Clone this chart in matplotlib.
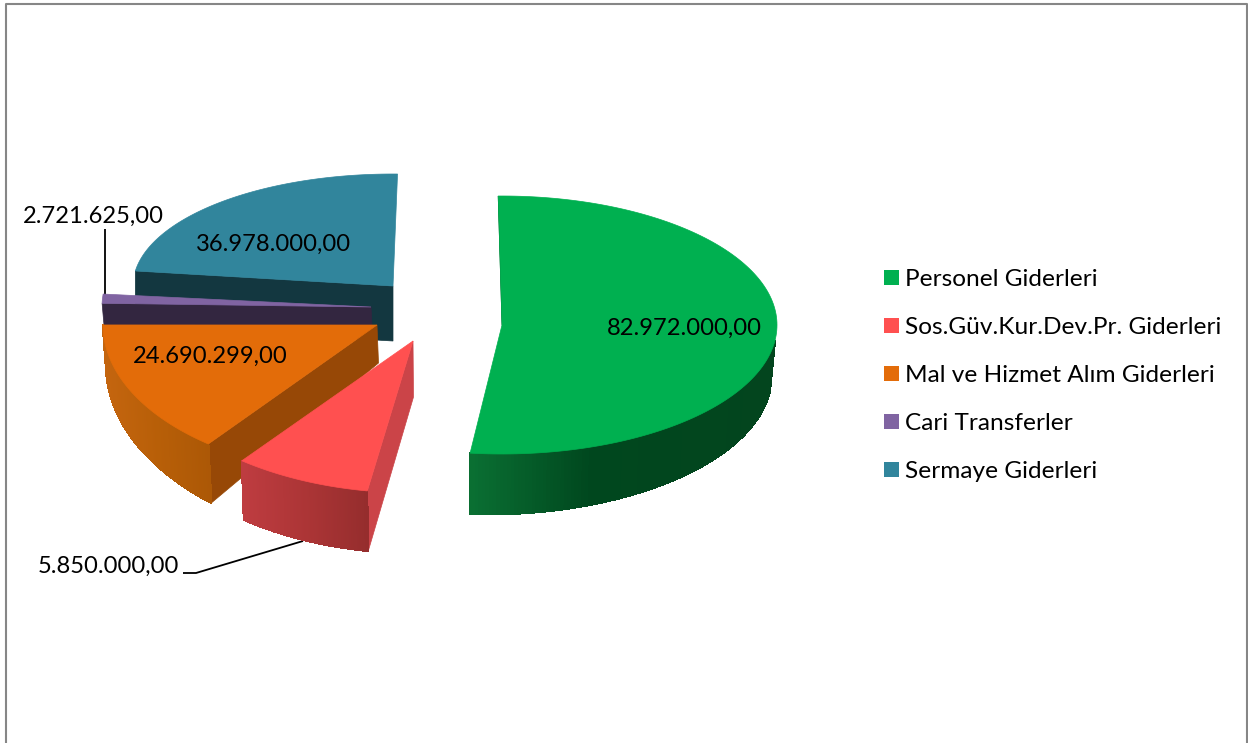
import numpy as np
import matplotlib
matplotlib.use("Agg")
import matplotlib.pyplot as plt
from matplotlib.collections import PolyCollection
from matplotlib.colors import LinearSegmentedColormap
from matplotlib.patches import Patch, Polygon

plt.rcParams['font.family'] = ['Lato', 'DejaVu Sans']

categories = ["Personel Giderleri", "Sos.Güv.Kur.Dev.Pr. Giderleri",
              "Mal ve Hizmet Alım Giderleri", "Cari Transferler", "Sermaye Giderleri"]
values = [82972000.00, 5850000.00, 24690299.00, 2721625.00, 36978000.00]
top_colors = ["#00B050", "#FF5050", "#E36C09", "#8064A2", "#31859C"]
side_colors = ["#004A20", "#CB4448", "#974806", "#332640", "#133740"]

# 3D view: perspective warp of the pie angle (true -> shown), degrees clockwise from 12 o'clock
warp_true = [0, 195, 208.7, 266.7, 273.1, 360]
warp_shown = [0, 188, 218, 270, 276.5, 361]
trim_start = [-0.8, 1.5, 0, 1.5, 1.2]
trim_end = [-1.3, 0, 0, -1.2, 0]
# exploded slice apexes and ellipse radii, pixels
apex_x = [502, 413, 377, 371, 393]
apex_y = [325, 341, 325, 307, 286]
rad_x = [275, 278, 274, 269, 260]
rad_y = [129, 152, 151, 140, 112]
# extrusion: outer drop at start/end of the visible wall, drop at apex, x drift
wall_from = [97, 189.5, 218, None, None]
wall_to = [186.7, 218, 270, None, None]
drop_wall_a = [50, 60, 59, 23, 55]
drop_wall_b = [61, 59, 40, 23, 55]
drift_a = [-5, 1, 3, 2, 0]
drift_b = [0, 2, 3, 2, 0]
drop_apex = [0, 56, 38, 18, 55]
wall_stops = [[(0, "#03451E"), (0.6, "#00471E"), (1, "#0A7033")],
              [(0, "#952D2D"), (0.5, "#AC3536"), (1, "#BE3C40")],
              [(0, "#AC5806"), (0.5, "#B85F08"), (1, "#C4650F")], None, None]

label_x = [684, None, 210, None, 274]
label_y = [328, None, 356, None, 244]
callout_text_x = [None, 179, None, 164, None]
callout_text_y = [None, 566, None, 216, None]
callout_line_x = [None, [183, 196, 303], None, [105, 105], None]
callout_line_y = [None, [573, 573, 541], None, [229, 302], None]

FONT = 17.15
LEGEND_FONT = 17.6

def tr(v):
    return f"{v:,.2f}".replace(",", "#").replace(".", ",").replace("#", ".")

def pt(i, deg):
    t = np.radians(deg)
    return apex_x[i] + rad_x[i] * np.sin(t), apex_y[i] - rad_y[i] * np.cos(t)

fig = plt.figure(figsize=(12.48, 7.43), dpi=100)
ax = fig.add_axes([0, 0, 1, 1])
ax.set_xlim(0, 1248)
ax.set_ylim(743, 0)
ax.axis("off")

ax.plot([6, 6, 1247, 1247], [743, 4, 4, 743], color="#868686", lw=1.5, zorder=1)

cum = np.concatenate([[0], np.cumsum(values)]) / np.sum(values) * 360
shown = np.interp(cum, warp_true, warp_shown)

for i in [4, 3, 2, 1, 0]:
    a0 = shown[i] + trim_start[i]
    a1 = shown[i + 1] + trim_end[i]
    z = 10 + (4 - i) * 3
    # cut face at the start edge (the end edge for the first slice, only a sliver shows)
    if i == 0:
        ox, oy = pt(i, a0)
        ax.add_patch(Polygon([(ox, oy), (apex_x[i] + 2, apex_y[i] - 20), (apex_x[i] + 2, apex_y[i]),
                              (apex_x[i], apex_y[i])], closed=True, fc=side_colors[i], ec=side_colors[i],
                             lw=0.5, zorder=z))
    else:
        ox, oy = pt(i, a0)
        d0 = drop_wall_a[i]
        ax.add_patch(Polygon([(ox, oy), (apex_x[i], apex_y[i]),
                              (apex_x[i] + drift_a[i] * 0.5, apex_y[i] + drop_apex[i]),
                              (ox + drift_a[i], oy + d0)], closed=True,
                             fc=side_colors[i], ec=side_colors[i], lw=0.5, zorder=z))
    # curved outer wall with its gradient
    if wall_from[i] is not None:
        th = np.linspace(wall_from[i], wall_to[i], 120)
        xs, ys = pt(i, th)
        f = (th - th[0]) / (th[-1] - th[0])
        bx = xs + drift_a[i] + (drift_b[i] - drift_a[i]) * f
        by = ys + drop_wall_a[i] + (drop_wall_b[i] - drop_wall_a[i]) * f
        quads = [[(xs[k], ys[k]), (xs[k + 1], ys[k + 1]), (bx[k + 1], by[k + 1]), (bx[k], by[k])]
                 for k in range(len(th) - 1)]
        cmap = LinearSegmentedColormap.from_list("w", wall_stops[i])
        span = xs.max() - xs.min()
        cols = cmap((xs.max() - xs[:-1]) / span)
        outline = np.r_[np.c_[xs, ys], np.c_[bx, by][::-1]]
        ax.add_patch(Polygon(outline, closed=True, fc=cols[len(cols) // 2], ec="none", zorder=z + 0.3))
        ax.add_collection(PolyCollection(quads, facecolors=cols, edgecolors=cols, linewidths=0.9,
                                         antialiaseds=False, zorder=z + 0.5))
    # top face
    th = np.linspace(a0, a1, 160)
    xs, ys = pt(i, th)
    ax.add_patch(Polygon(np.r_[[(apex_x[i], apex_y[i])], np.c_[xs, ys]], closed=True,
                         fc=top_colors[i], ec=top_colors[i], lw=0.5, zorder=z + 1))

for i, v in enumerate(values):
    if label_x[i] is not None:
        ax.text(label_x[i], label_y[i], tr(v), ha="center", va="center", fontsize=FONT, color="black", zorder=40)
    else:
        ax.text(callout_text_x[i], callout_text_y[i], tr(v), ha="right", va="center", fontsize=FONT,
                color="black", zorder=40)
        ax.plot(callout_line_x[i], callout_line_y[i], color="black", lw=1.3, zorder=9, solid_capstyle="butt")

handles = [Patch(facecolor=c, edgecolor="none") for c in top_colors]
ax.legend(handles, categories, loc="upper left", bbox_to_anchor=(884 / 1248, 1 - 269 / 743),
          frameon=False, fontsize=LEGEND_FONT, handlelength=0.614, handleheight=0.614, handletextpad=0.26,
          labelspacing=1.105, borderpad=0, borderaxespad=0, labelcolor="black")

fig.savefig("out.png", dpi=100, facecolor="white")
